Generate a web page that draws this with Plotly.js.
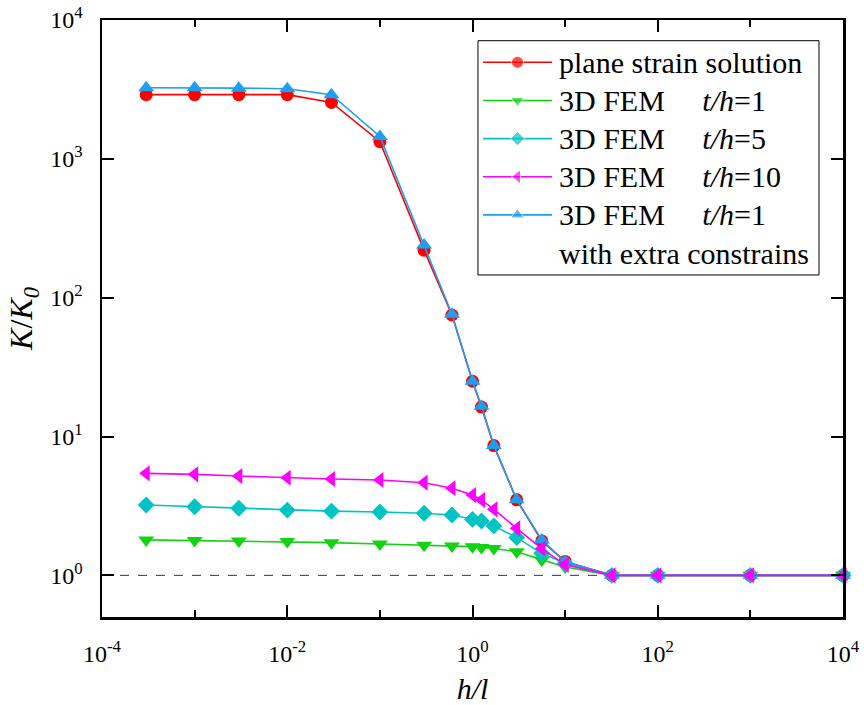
<!DOCTYPE html>
<html>
<head>
<meta charset="utf-8">
<script src="https://cdn.plot.ly/plotly-3.0.1.min.js"></script>
<style>html,body{margin:0;padding:0;background:#fff;}#chart{width:864px;height:705px;}</style>
</head>
<body>
<div id="chart"></div>
<script>
// h/l sample positions
const hl = [0.0003, 0.001, 0.003, 0.01, 0.03, 0.1, 0.3, 0.6, 1, 1.25, 1.7, 3, 5.6, 10, 32, 100, 1000, 10000];
// K/K0 values
const planeStrain = [2900, 2900, 2900, 2900, 2550, 1330, 220, 75, 25, 16.3, 8.6, 3.5, 1.77, 1.26, 1.0, 1.0, 1.0, 1.0];
const fem_t1 = [1.80, 1.78, 1.77, 1.75, 1.72, 1.68, 1.65, 1.63, 1.61, 1.59, 1.56, 1.48, 1.29, 1.15, 1.0, 1.0, 1.0, 1.0];
const fem_t5 = [3.21, 3.12, 3.04, 2.95, 2.90, 2.86, 2.80, 2.72, 2.53, 2.46, 2.27, 1.87, 1.44, 1.22, 1.0, 1.0, 1.0, 1.0];
const fem_t10 = [5.43, 5.34, 5.19, 5.05, 4.94, 4.86, 4.65, 4.24, 3.79, 3.49, 2.99, 2.18, 1.56, 1.19, 1.0, 1.0, 1.0, 1.0];
const fem_t1c = [3250, 3250, 3230, 3200, 2900, 1450, 240, 76, 25, 16.5, 8.6, 3.5, 1.8, 1.25, 1.0, 1.0, 1.0, 1.0];
const refX = [0.0001, 10000];
const refY = [1, 1];
// axis ticks
const xTickVals = [1e-4, 1e-2, 1, 1e2, 1e4];
const xTickText = ['10<sup>-4</sup>', '10<sup>-2</sup>', '10<sup>0</sup>', '10<sup>2</sup>', '10<sup>4</sup>'];
const xMinorVals = [1e-3, 1e-1, 10, 1e3];
const yTickVals = [1, 10, 100, 1000, 10000];
const yTickText = ['10<sup>0</sup>', '10<sup>1</sup>', '10<sup>2</sup>', '10<sup>3</sup>', '10<sup>4</sup>'];
// legend labels (rows of the legend box)
const legendLabels = [
  'plane strain solution',
  '3D FEM\u00a0\u00a0\u00a0\u00a0\u00a0<i>t/h</i>=1',
  '3D FEM\u00a0\u00a0\u00a0\u00a0\u00a0<i>t/h</i>=5',
  '3D FEM\u00a0\u00a0\u00a0\u00a0\u00a0<i>t/h</i>=10',
  '3D FEM\u00a0\u00a0\u00a0\u00a0\u00a0<i>t/h</i>=1',
  'with extra constrains'
];
const legendRows = [0, 1, 2, 3, 4, 5];
const legendSampleX = [0, 0.5, 1];

const font = '"Liberation Serif", serif';
const series = [
  {y: planeStrain, color: '#ff0000', symbol: 'circle', size: 13, legSize: 12, row: 0},
  {y: fem_t1, color: '#12d212', symbol: 'triangle-down', size: 14, legSize: 12, row: 1},
  {y: fem_t5, color: '#00c4c4', symbol: 'diamond', size: 13, legSize: 11, row: 2},
  {y: fem_t1c, color: '#1e9ef0', symbol: 'triangle-up', size: 14, legSize: 12, row: 4},
  {y: fem_t10, color: '#ff00ff', symbol: 'triangle-left', size: 14, legSize: 12, row: 3}
];

const data = [
  {x: refX, y: refY, type: 'scatter', mode: 'lines', line: {color: '#333', width: 1, dash: 'dash'}, hoverinfo: 'skip'}
];
series.forEach(s => {
  data.push({x: hl, y: s.y, type: 'scatter', mode: 'lines+markers', xaxis: 'x', yaxis: 'y',
    line: {color: s.color, width: 1.6}, marker: {color: s.color, symbol: s.symbol, size: s.size},
    cliponaxis: false});
});
// legend samples drawn on an overlay axis placed where the legend box is
series.forEach(s => {
  data.push({x: legendSampleX, y: legendSampleX.map(() => legendRows[s.row]), type: 'scatter',
    mode: 'lines+markers', xaxis: 'x2', yaxis: 'y2',
    line: {color: s.color, width: 1.6},
    marker: {color: s.color, symbol: s.symbol, size: legendSampleX.map((v, i) => i === 1 ? s.legSize : 0)},
    cliponaxis: false, hoverinfo: 'skip'});
});

const legTop = 0.9653, legBot = 0.5729;
const annotations = legendLabels.map((t, i) => ({
  text: t, xref: 'paper', yref: 'y2', x: 0.6145, y: legendRows[i], xanchor: 'left', yanchor: 'middle',
  showarrow: false, font: {family: font, size: 30, color: '#000'}
}));

const layout = {
  width: 864, height: 705,
  margin: {l: 102, r: 21, t: 20, b: 88},
  paper_bgcolor: '#fff', plot_bgcolor: '#fff',
  font: {family: font, color: '#000', size: 24},
  showlegend: false,
  xaxis: {type: 'log', range: [-4, 4], showgrid: false, zeroline: false,
    showline: true, linecolor: '#000', linewidth: 2.5, mirror: 'ticks',
    ticks: 'inside', ticklen: 12, tickwidth: 2, tickcolor: '#000',
    tickmode: 'array', tickvals: xTickVals, ticktext: xTickText,
    ticklabelstandoff: 14, tickfont: {family: font, size: 24},
    minor: {tickmode: 'array', tickvals: xMinorVals, ticks: 'inside', ticklen: 7, tickwidth: 2, tickcolor: '#000', showgrid: false},
    title: {text: '<i>h/l</i>', font: {family: font, size: 30}, standoff: 12}},
  yaxis: {type: 'log', range: [-0.3, 4], showgrid: false, zeroline: false,
    showline: true, linecolor: '#000', linewidth: 2.5, mirror: 'ticks',
    ticks: 'inside', ticklen: 12, tickwidth: 2, tickcolor: '#000',
    tickmode: 'array', tickvals: yTickVals, ticktext: yTickText,
    ticklabelstandoff: 12, tickfont: {family: font, size: 24},
    title: {text: '<i>K</i>/<i>K</i><sub><i>0</i></sub>', font: {family: font, size: 32}, standoff: 8}},
  xaxis2: {domain: [0.5142, 0.6073], range: [0, 1], visible: false, anchor: 'y2', fixedrange: true},
  yaxis2: {domain: [legBot, legTop], range: [5.575, -0.566], visible: false, anchor: 'x2', fixedrange: true},
  shapes: [{type: 'rect', xref: 'paper', yref: 'paper', x0: 0.5074, x1: 0.9676, y0: legBot, y1: legTop,
    line: {color: '#000', width: 1}, fillcolor: 'rgba(0,0,0,0)', layer: 'above'}],
  annotations: annotations
};
Plotly.newPlot('chart', data, layout, {displayModeBar: false, staticPlot: true});
</script>
</body>
</html>
